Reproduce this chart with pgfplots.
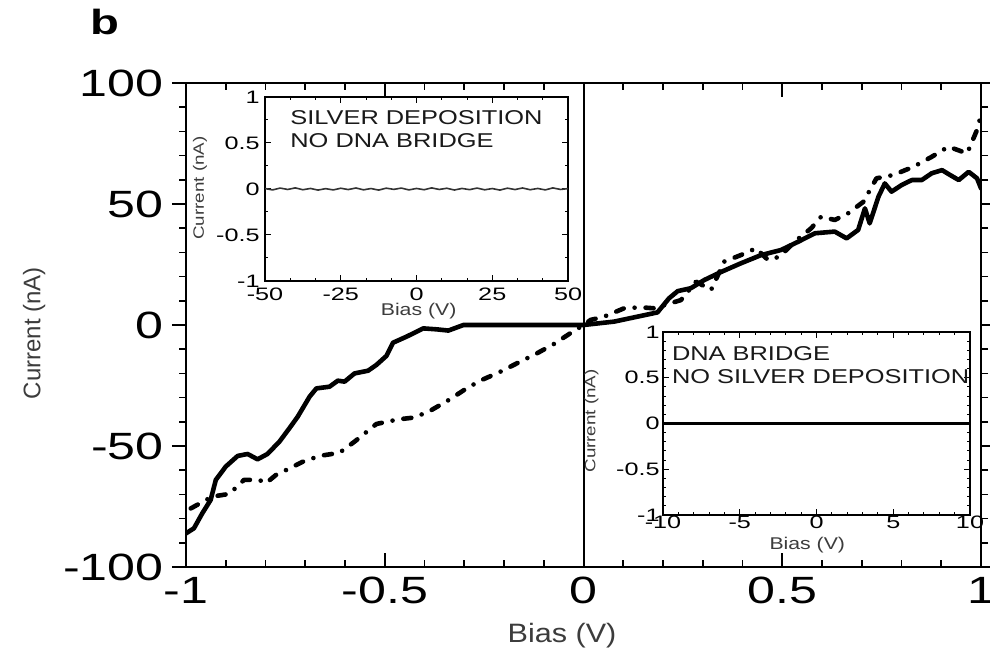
\documentclass[border=0pt]{standalone}
\usepackage{fontspec}
\setmainfont{Liberation Sans}
\newfontfamily\tickfont{Liberation Sans}[FakeStretch=1.32]
\newfontfamily\insetfont{Liberation Sans}[FakeStretch=1.4]
\newfontfamily\notefont{Liberation Sans}[FakeStretch=1.27]
\newfontfamily\biasfont{Liberation Sans}[FakeStretch=1.15]
\newfontfamily\curfont{Liberation Sans}[FakeStretch=1.0]
\newfontfamily\insetlabfont{Liberation Sans}[FakeStretch=1.25]
\newfontfamily\panelfont{Liberation Sans}[FakeStretch=1.35]
\usepackage{pgfplots}
\pgfplotsset{compat=1.18}
\definecolor{lblgray}{RGB}{60,60,60}

\pgfplotsset{
  insetaxis/.style={
    scale only axis,
    anchor=south west,
    axis background/.style={fill=white},
    axis line style={line width=0.7pt},
    ymin=-1, ymax=1,
    ytick={-1,-0.5,0,0.5,1},
    yticklabels={-1,-0.5,0,0.5,1},
    tick align=inside,
    xtick pos=both, ytick pos=both,
    xticklabel pos=lower, yticklabel pos=left,
    major tick length=3pt, minor tick length=1.6pt,
    tick style={black, line width=0.5pt},
    ticklabel style={font=\insetfont\fontsize{9}{9}\selectfont},
    xlabel style={font=\insetlabfont\fontsize{8.5}{8.5}\selectfont, text=lblgray},
    ylabel style={font=\insetlabfont\fontsize{7.5}{7.5}\selectfont, text=lblgray},
  },
}
\tikzset{note/.style={anchor=base west, inner sep=0pt,
    font=\notefont\fontsize{10}{10}\selectfont, text=black!90}}

\begin{document}
\begin{tikzpicture}
\path[use as bounding box] (0,0) rectangle (495pt,326.5pt);

% main I-V curves
\begin{axis}[
  scale only axis,
  width=397.5pt, height=242pt,
  at={(93pt,43pt)}, anchor=south west,
  xmin=-1, xmax=1, ymin=-100, ymax=100,
  xtick={-1,-0.5,0,0.5,1}, xticklabels={-1,-0.5,0,0.5,1},
  ytick={-100,-50,0,50,100}, yticklabels={-100,-50,0,50,100},
  minor x tick num=4, minor y tick num=4,
  xtick align=inside, ytick align=outside,
  xtick pos=both, ytick pos=both,
  xticklabel pos=lower, yticklabel pos=left,
  major tick length=7pt, minor tick length=3.5pt,
  tick style={black, line width=0.8pt},
  axis line style={line width=1pt},
  ticklabel style={font=\tickfont\fontsize{19}{19}\selectfont},
  x tick label style={inner sep=5pt},
  y tick label style={inner sep=4pt},
  xlabel={Bias (V)},
  ylabel={Current (nA)},
  xlabel style={at={(rel axis cs:0.473,-0.1426)}, anchor=center,
    font=\biasfont\fontsize{13.3}{13.3}\selectfont, text=lblgray},
  ylabel style={at={(rel axis cs:-0.191,0.483)}, anchor=center,
    font=\curfont\fontsize{12}{12}\selectfont, text=lblgray},
]
\addplot[black, line width=1pt] coordinates {(0,-100) (0,100)};
\addplot[black, line width=2.3pt, line join=round, line cap=round] coordinates {
(-1.0,-86.1) (-0.98,-84) (-0.959,-77.8) (-0.938,-72.3) (-0.925,-64) (-0.90,-58.5)
(-0.87,-54.1) (-0.845,-53.3) (-0.82,-55.5) (-0.795,-53.3) (-0.765,-48.2) (-0.74,-42.7)
(-0.719,-37.9) (-0.689,-29.6) (-0.672,-26.2) (-0.639,-25.5) (-0.618,-23) (-0.601,-23.4)
(-0.576,-20) (-0.542,-18.9) (-0.521,-16.5) (-0.496,-12.8) (-0.479,-7.3) (-0.445,-4.8)
(-0.403,-1.4) (-0.369,-1.8) (-0.34,-2.3) (-0.302,0) (0,0) (0.077,1.4) (0.186,5.2)
(0.215,11) (0.237,14) (0.27,15.2) (0.304,18.6) (0.346,21.9) (0.396,25.5) (0.447,28.9)
(0.497,31) (0.54,34.4) (0.582,37.9) (0.632,38.6) (0.662,35.8) (0.691,39.3) (0.708,48.2)
(0.72,42) (0.742,53) (0.758,58.5) (0.775,55.1) (0.801,57.9) (0.826,59.9) (0.851,59.9)
(0.876,62.7) (0.902,64) (0.922,62) (0.944,59.9) (0.969,63.3) (0.99,60.6) (1.0,56.5)
};
\addplot[black, line width=2.3pt, line join=round, line cap=round,
  dash pattern=on 4pt off 5.5pt on 0pt off 5.5pt] coordinates {
(-0.988,-75.8) (-0.934,-70.9) (-0.891,-69.8) (-0.854,-64) (-0.816,-64) (-0.799,-65.4)
(-0.774,-62) (-0.744,-59.6) (-0.706,-56.5) (-0.664,-54.1) (-0.614,-52.8) (-0.576,-48.2)
(-0.521,-40.9) (-0.466,-39) (-0.424,-38.2) (-0.382,-35.1) (-0.336,-30.7) (-0.298,-26.6)
(-0.26,-23) (-0.214,-19.7) (-0.167,-15.8) (-0.117,-11.7) (-0.075,-7.9) (-0.033,-3.4)
(0,0) (0.018,2.1) (0.051,3.4) (0.102,6.9) (0.144,7.3) (0.178,6.9) (0.245,10.3)
(0.283,17.9) (0.321,14.5) (0.354,26.2) (0.396,28.9) (0.434,31.7) (0.464,26.9)
(0.493,28.2) (0.531,34.4) (0.573,40) (0.598,44.8) (0.632,43.4) (0.666,46.2)
(0.704,50.9) (0.737,60.6) (0.78,62) (0.83,65.4) (0.876,69.5) (0.918,73.7)
(0.965,70.9) (0.99,80.6) (1.0,86.8)
};
\end{axis}

% inset: silver deposition, no DNA bridge
\begin{axis}[insetaxis,
  width=151.5pt, height=92pt, at={(132.5pt,186pt)},
  xmin=-50, xmax=50,
  xtick={-50,-25,0,25,50}, xticklabels={-50,-25,0,25,50},
  minor x tick num=2, minor y tick num=1,
  x tick label style={inner sep=3.5pt},
  y tick label style={inner sep=2.5pt},
  xlabel={Bias (V)}, ylabel={Current (nA)},
  xlabel style={at={(rel axis cs:0.507,-0.161)}, anchor=center},
  ylabel style={at={(rel axis cs:-0.2145,0.505)}, anchor=center},
]
\addplot[black!80, line width=0.8pt] coordinates {
(-50,0.005) (-47.5,-0.01) (-45,0.01) (-42.5,-0.005) (-40,0.012) (-37.5,-0.008)
(-35,0.006) (-32.5,-0.012) (-30,0.004) (-27.5,-0.01) (-25,0.008) (-22.5,-0.006)
(-20,0.011) (-17.5,-0.009) (-15,0.005) (-12.5,-0.012) (-10,0.009) (-7.5,-0.004)
(-5,0.01) (-2.5,-0.01) (0,0.006) (2.5,-0.008) (5,0.012) (7.5,-0.005) (10,0.008)
(12.5,-0.011) (15,0.006) (17.5,-0.007) (20,0.01) (22.5,-0.009) (25,0.005)
(27.5,-0.012) (30,0.009) (32.5,-0.006) (35,0.011) (37.5,-0.008) (40,0.006)
(42.5,-0.01) (45,0.012) (47.5,-0.005) (50,0.004)
};
\node[note] at (rel axis cs:0.0825,0.853) {SILVER DEPOSITION};
\node[note] at (rel axis cs:0.0825,0.728) {NO DNA BRIDGE};
\end{axis}

% inset: DNA bridge, no silver deposition
\begin{axis}[insetaxis,
  width=153.5pt, height=91.5pt, at={(331.5pt,69pt)},
  xmin=-10, xmax=10,
  xtick={-10,-5,0,5,10}, xticklabels={-10,-5,0,5,10},
  minor x tick num=4, minor y tick num=4,
  x tick label style={inner sep=0.5pt},
  y tick label style={inner sep=1.5pt},
  xlabel={Bias (V)}, ylabel={Current (nA)},
  xlabel style={at={(rel axis cs:0.47,-0.164)}, anchor=center},
  ylabel style={at={(rel axis cs:-0.233,0.514)}, anchor=center},
]
\addplot[black, line width=1.1pt] coordinates {(-10,0) (-5,0) (0,0) (5,0) (10,0)};
\node[note] at (rel axis cs:0.028,0.842) {DNA BRIDGE};
\node[note] at (rel axis cs:0.028,0.72) {NO SILVER DEPOSITION};
\end{axis}

\node[anchor=base, font=\panelfont\bfseries\fontsize{17.5}{17.5}\selectfont]
  at (52.5pt,309pt) {b};
\end{tikzpicture}
\end{document}
